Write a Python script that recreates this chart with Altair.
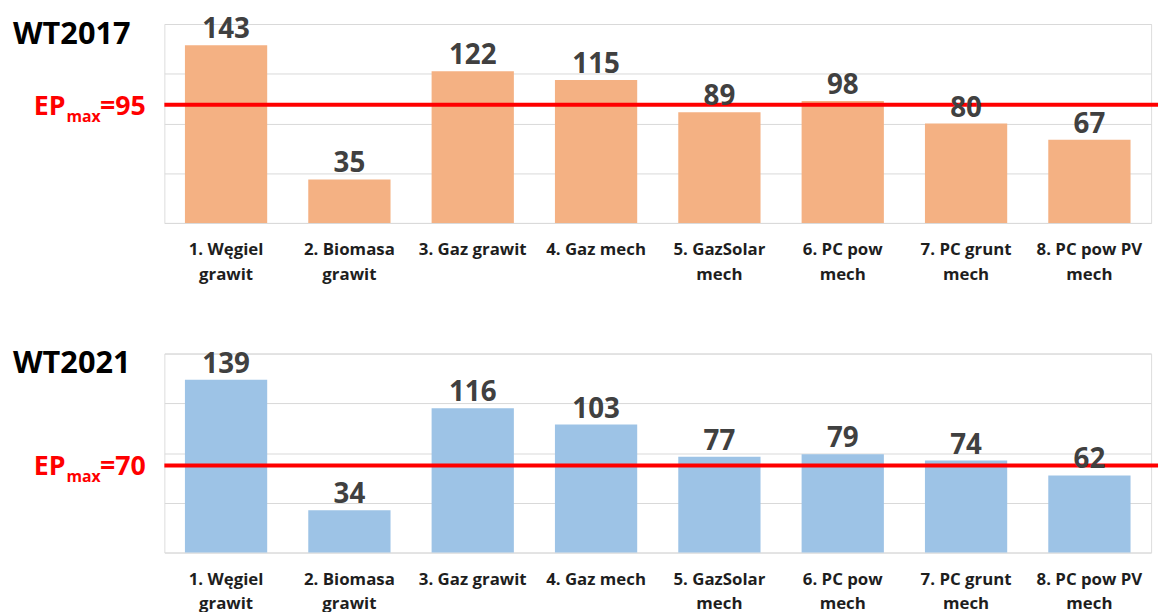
import altair as alt
import pandas as pd

categories = ["1. Węgiel|grawit", "2. Biomasa|grawit", "3. Gaz grawit", "4. Gaz mech",
              "5. GazSolar|mech", "6. PC pow|mech", "7. PC grunt|mech", "8. PC pow PV|mech"]
values_2017 = [143, 35, 122, 115, 89, 98, 80, 67]
values_2021 = [139, 34, 116, 103, 77, 79, 74, 62]
panels = ["WT2017", "WT2021"]
ep_max = [95, 70]
colors = ["#F4B183", "#9DC3E6"]
y_ticks = [0, 40, 80, 120, 160]

FONT = "Open Sans"
W, H = 997, 201


def panel(title, vals, ep, color):
    df = pd.DataFrame({"cat": categories, "val": vals})
    x = alt.X("cat:N", sort=categories, title=None,
              scale=alt.Scale(paddingInner=0.333, paddingOuter=0.1667),
              axis=alt.Axis(labelExpr="split(datum.value, '|')", labelAngle=0,
                            labelFontSize=17, labelFontWeight="bold", labelColor="#1e1e1e",
                            labelLineHeight=25, labelPadding=19, ticks=False, domain=False,
                            labelFont=FONT))
    y = alt.Y("val:Q", title=None, scale=alt.Scale(domain=[0, 160], nice=False),
              axis=alt.Axis(values=y_ticks, labels=False, ticks=False, domain=False,
                            grid=True, gridColor="#D9D9D9", gridWidth=1))
    base = alt.Chart(df)
    bars = base.mark_bar(color=color).encode(x=x, y=y)
    text = base.mark_text(baseline="alphabetic", dy=-7, fontSize=28, fontWeight="bold",
                          color="#404040", font=FONT).encode(x="cat:N", y="val:Q", text="val:Q")
    tdf = pd.DataFrame({"title": [title], "ep": [ep], "eq": [f"={ep}"],
                        "EP": ["EP"], "sub": ["max"]})
    tb = alt.Chart(tdf)
    rule = tb.mark_rule(color="#FF0000", strokeWidth=4).encode(
        y="ep:Q", x=alt.value(0), x2=alt.value(W + 7))
    ttl = tb.mark_text(align="left", baseline="alphabetic", fontSize=31, fontWeight="bold",
                       color="#000000", font=FONT).encode(
        text="title:N", x=alt.value(-153), y=alt.value(20))
    ep1 = tb.mark_text(align="left", baseline="alphabetic", dy=10, fontSize=27,
                       fontWeight="bold", color="#FF0000", font=FONT).encode(
        text="EP:N", x=alt.value(-132), y="ep:Q")
    ep2 = tb.mark_text(align="left", baseline="alphabetic", dy=17, fontSize=16,
                       fontWeight="bold", color="#FF0000", font=FONT).encode(
        text="sub:N", x=alt.value(-99), y="ep:Q")
    ep3 = tb.mark_text(align="left", baseline="alphabetic", dy=10, fontSize=27,
                       fontWeight="bold", color="#FF0000", font=FONT).encode(
        text="eq:N", x=alt.value(-65), y="ep:Q")
    return alt.layer(bars, rule, text, ttl, ep1, ep2, ep3).properties(width=W, height=H)


chart = alt.vconcat(
    panel(panels[0], values_2017, ep_max[0], colors[0]),
    panel(panels[1], values_2021, ep_max[1], colors[1]),
    spacing=65,
).properties(padding={"left": 4, "top": 4, "right": 0, "bottom": 0}).configure_view(
    stroke=None).configure(font=FONT)

chart.save("out.html", embed_options={"renderer": "svg", "actions": False})
